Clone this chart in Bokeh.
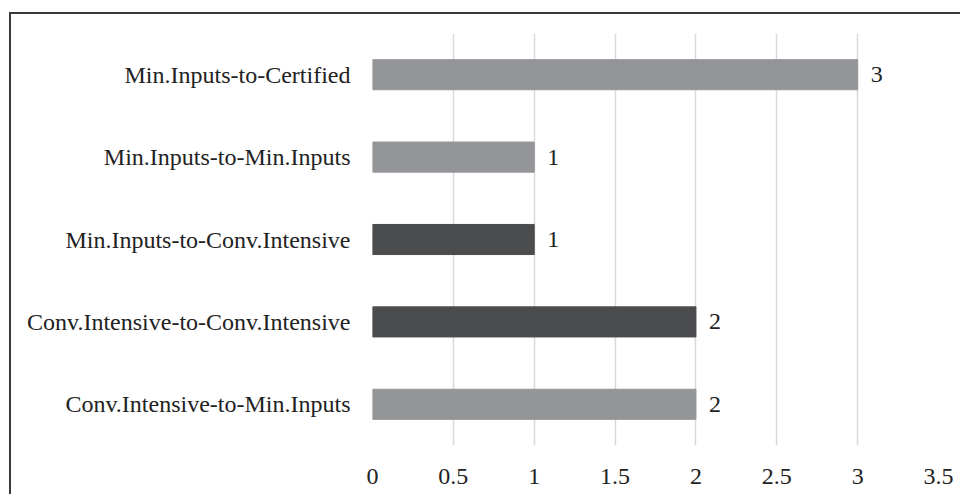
from bokeh.plotting import figure
from bokeh.models import ColumnDataSource, LabelSet, FactorRange, Range1d, FixedTicker
from bokeh.embed import file_html
from bokeh.resources import INLINE

# Transition categories, listed bottom to top
categories = [
    "Conv.Intensive-to-Min.Inputs",
    "Conv.Intensive-to-Conv.Intensive",
    "Min.Inputs-to-Conv.Intensive",
    "Min.Inputs-to-Min.Inputs",
    "Min.Inputs-to-Certified",
]
counts = [2, 2, 1, 1, 3]
bar_colors = ["#949598", "#4b4c4e", "#4b4c4e", "#949598", "#949598"]
x_ticks = [0, 0.5, 1, 1.5, 2, 2.5, 3, 3.5]

FONT = "Liberation Serif"
FONT_SIZE = "24px"

source = ColumnDataSource(dict(
    cat=categories,
    val=counts,
    color=bar_colors,
    label=[str(v) for v in counts],
))

p = figure(
    width=951, height=482,
    y_range=FactorRange(*categories, range_padding=0),
    x_range=Range1d(0, 3.5),
    output_backend="svg", toolbar_location=None,
    min_border_left=361, min_border_right=24,
    min_border_top=19, min_border_bottom=51,
)
# chart box: framed on the top and left edges
p.margin = (12, 0, 0, 9)
p.styles = {"border-top": "2px solid #3a3a3a", "border-left": "2px solid #3a3a3a"}

p.hbar(y="cat", right="val", left=0, height=0.365, color="color", source=source)

labels = LabelSet(x="val", y="cat", text="label", source=source,
                  x_offset=13, text_baseline="middle", text_align="left",
                  text_font=FONT, text_font_size=FONT_SIZE, text_color="#222222")
p.add_layout(labels)

p.outline_line_color = None
p.ygrid.grid_line_color = None
p.xgrid.grid_line_color = "#d9d9d9"
p.xgrid.grid_line_width = 1.5
p.xaxis.ticker = FixedTicker(ticks=x_ticks)

for ax in (p.xaxis, p.yaxis):
    ax.axis_line_color = None
    ax.major_tick_line_color = None
    ax.minor_tick_line_color = None
    ax.major_label_text_font = FONT
    ax.major_label_text_font_size = FONT_SIZE
    ax.major_label_text_color = "#222222"

p.xaxis.major_label_standoff = 17
p.yaxis.major_label_standoff = 16

open("out.html", "w").write(file_html(p, INLINE))
